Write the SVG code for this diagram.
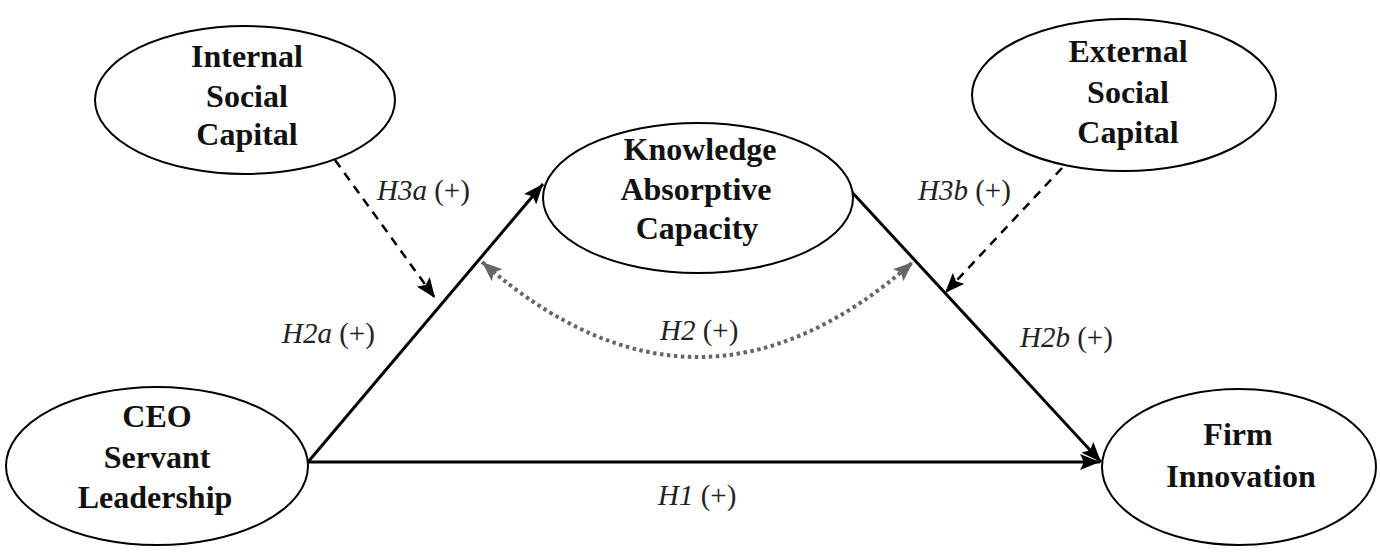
<svg xmlns="http://www.w3.org/2000/svg" width="1380" height="556" viewBox="0 0 1380 556">
<style>
.node{fill:#fff;stroke:#000;stroke-width:2}
.nt{font-family:"Liberation Serif","Times New Roman",serif;font-weight:bold;font-size:32px;fill:#111;text-anchor:middle}
.lb{font-family:"Liberation Serif","Times New Roman",serif;font-size:29px;fill:#222}
.it{font-style:italic}
.solid{stroke:#000;stroke-width:3;fill:none}
.dash{stroke:#000;stroke-width:2.5;fill:none;stroke-dasharray:9 7}
.dot{stroke:#666;stroke-width:4;fill:none;stroke-dasharray:3.5 3.5}
</style>
<defs>
<marker id="ah" markerUnits="userSpaceOnUse" markerWidth="22" markerHeight="16" refX="20" refY="8" orient="auto">
<path d="M0,0 L20,8 L0,16 L4,8 z" fill="#000"/>
</marker>
<marker id="ahg" markerUnits="userSpaceOnUse" markerWidth="22" markerHeight="16" refX="20" refY="8" orient="auto-start-reverse">
<path d="M0,0 L20,8 L0,16 L4,8 z" fill="#666"/>
</marker>
</defs>
<rect width="1380" height="556" fill="#fff"/>
<g id="connectors">
<line class="solid" x1="308" y1="462" x2="543" y2="184" marker-end="url(#ah)"/>
<line class="solid" x1="850" y1="190" x2="1101" y2="462" marker-end="url(#ah)"/>
<line class="solid" x1="308" y1="462" x2="1100" y2="462" marker-end="url(#ah)"/>
<line class="dash" x1="335" y1="160" x2="435" y2="298" marker-end="url(#ah)"/>
<line class="dash" x1="1062" y1="168" x2="945" y2="293" marker-end="url(#ah)"/>
<path class="dot" d="M482,262 Q698,452 913,262" marker-start="url(#ahg)" marker-end="url(#ahg)"/>
<text class="lb" x="377" y="200"><tspan class="it">H3a</tspan> (+)</text>
<text class="lb" x="918" y="200"><tspan class="it">H3b</tspan> (+)</text>
<text class="lb" x="282" y="343"><tspan class="it">H2a</tspan> (+)</text>
<text class="lb" x="660" y="340"><tspan class="it">H2</tspan> (+)</text>
<text class="lb" x="1020" y="347"><tspan class="it">H2b</tspan> (+)</text>
<text class="lb" x="658" y="505"><tspan class="it">H1</tspan> (+)</text>
</g>
<g id="internal-social-capital">
<ellipse class="node" cx="245" cy="100" rx="150" ry="74"/>
<text class="nt" x="247" y="67">Internal</text>
<text class="nt" x="247" y="107">Social</text>
<text class="nt" x="247" y="145">Capital</text>
</g>
<g id="external-social-capital">
<ellipse class="node" cx="1124" cy="95" rx="152" ry="76"/>
<text class="nt" x="1128" y="62">External</text>
<text class="nt" x="1128" y="103">Social</text>
<text class="nt" x="1128" y="143">Capital</text>
</g>
<g id="knowledge-absorptive-capacity">
<ellipse class="node" cx="698" cy="198" rx="155" ry="75"/>
<text class="nt" x="700" y="160">Knowledge</text>
<text class="nt" x="696" y="200">Absorptive</text>
<text class="nt" x="697" y="239">Capacity</text>
</g>
<g id="ceo-servant-leadership">
<ellipse class="node" cx="157" cy="466" rx="151" ry="79"/>
<text class="nt" x="157" y="427">CEO</text>
<text class="nt" x="157" y="468">Servant</text>
<text class="nt" x="155" y="508">Leadership</text>
</g>
<g id="firm-innovation">
<ellipse class="node" cx="1239" cy="467" rx="137" ry="78"/>
<text class="nt" x="1238" y="445">Firm</text>
<text class="nt" x="1241" y="487">Innovation</text>
</g>
</svg>
